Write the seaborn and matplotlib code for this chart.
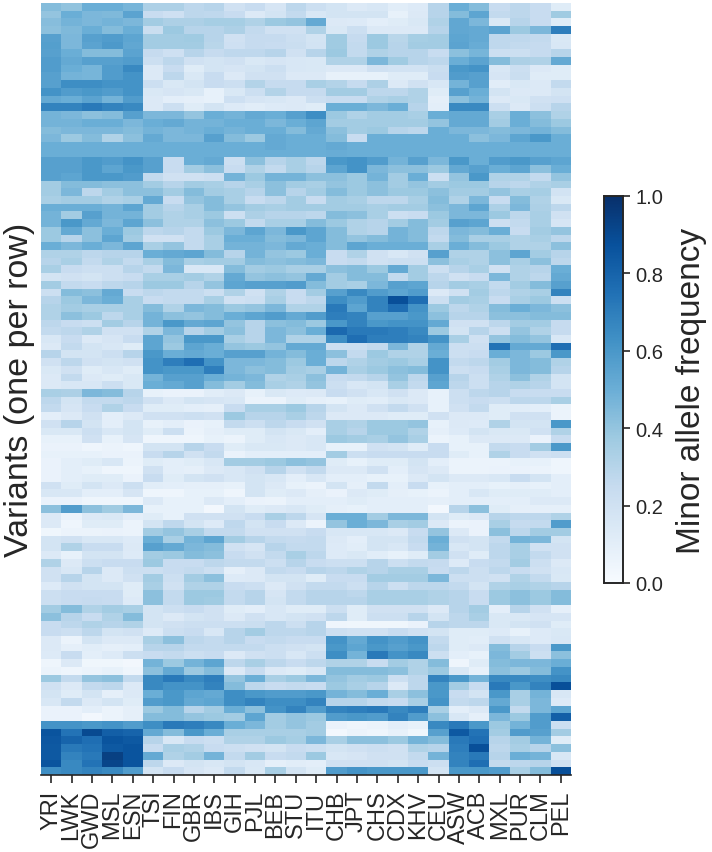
import numpy as np
import pandas as pd
import matplotlib
matplotlib.use("Agg")
import matplotlib.pyplot as plt
import seaborn as sns

populations = ["YRI", "LWK", "GWD", "MSL", "ESN", "TSI", "FIN", "GBR", "IBS", "GIH", "PJL", "BEB", "STU",
               "ITU", "CHB", "JPT", "CHS", "CDX", "KHV", "CEU", "ASW", "ACB", "MXL", "PUR", "CLM", "PEL"]
cbar_ticks = [0.0, 0.2, 0.4, 0.6, 0.8, 1.0]

# minor allele frequency in percent, one list per variant
maf_block_1 = [
    [44, 41, 50, 50, 47, 33, 33, 28, 30, 20, 24, 17, 28, 22, 18, 14, 16, 11, 13, 30, 50, 44, 24, 28, 24, 12],
    [40, 50, 46, 45, 55, 24, 21, 28, 27, 24, 14, 18, 26, 16, 18, 18, 18, 8, 14, 30, 44, 54, 26, 28, 24, 37],
    [43, 48, 46, 48, 46, 36, 33, 33, 35, 35, 32, 38, 40, 52, 14, 13, 10, 12, 15, 32, 53, 46, 15, 30, 24, 12],
    [42, 45, 50, 44, 50, 23, 38, 30, 30, 33, 26, 20, 20, 32, 15, 22, 14, 14, 14, 30, 53, 52, 55, 38, 46, 70],
    [56, 46, 56, 58, 54, 36, 36, 37, 30, 20, 25, 25, 22, 18, 37, 25, 38, 29, 35, 36, 54, 52, 27, 27, 26, 15],
    [57, 46, 55, 59, 53, 36, 36, 36, 29, 21, 25, 24, 23, 19, 37, 26, 38, 30, 36, 36, 55, 51, 27, 26, 25, 16],
    [56, 50, 44, 44, 55, 25, 21, 30, 25, 27, 27, 30, 20, 30, 38, 26, 32, 30, 30, 24, 42, 47, 22, 22, 25, 30],
    [58, 52, 56, 56, 58, 22, 28, 20, 18, 20, 15, 17, 16, 15, 32, 32, 46, 37, 30, 28, 50, 55, 44, 33, 32, 52],
    [58, 50, 47, 58, 66, 14, 24, 12, 18, 17, 18, 22, 16, 15, 14, 14, 20, 19, 19, 23, 60, 62, 16, 22, 14, 12],
    [56, 48, 47, 58, 62, 14, 28, 15, 24, 14, 20, 20, 14, 14, 8, 8, 8, 12, 12, 24, 58, 56, 17, 23, 12, 12],
    [56, 64, 64, 62, 62, 22, 15, 18, 24, 22, 31, 25, 25, 34, 31, 25, 33, 14, 20, 16, 48, 56, 11, 15, 14, 26],
    [62, 58, 60, 58, 62, 15, 17, 15, 8, 15, 22, 31, 25, 25, 36, 36, 28, 28, 32, 12, 56, 50, 18, 14, 14, 18],
    [52, 50, 55, 48, 58, 14, 10, 9, 8, 21, 17, 16, 14, 22, 24, 24, 32, 34, 32, 9, 42, 48, 14, 15, 20, 21],
    [68, 68, 72, 68, 66, 14, 22, 12, 18, 13, 11, 13, 14, 12, 50, 50, 46, 50, 30, 10, 66, 66, 22, 14, 22, 30],
    [48, 46, 42, 44, 56, 46, 46, 40, 50, 48, 52, 50, 56, 64, 38, 32, 36, 36, 34, 50, 52, 52, 34, 50, 42, 32],
    [48, 48, 50, 50, 46, 50, 52, 48, 48, 50, 50, 46, 50, 54, 36, 36, 36, 36, 36, 40, 52, 52, 36, 50, 44, 38],
    [44, 46, 46, 46, 44, 48, 46, 48, 50, 48, 50, 50, 44, 52, 42, 36, 38, 30, 28, 50, 46, 46, 44, 46, 48, 44],
]
maf_block_2 = [
    [46, 38, 44, 32, 42, 52, 46, 46, 56, 44, 38, 52, 50, 50, 44, 24, 50, 50, 50, 50, 50, 42, 46, 54, 60, 50],
    [50, 50, 50, 50, 50, 50, 50, 50, 50, 50, 50, 52, 50, 50, 52, 50, 50, 50, 50, 50, 50, 50, 50, 50, 50, 50],
    [50, 50, 50, 50, 50, 50, 50, 50, 50, 50, 50, 50, 50, 50, 51, 50, 50, 50, 50, 50, 50, 50, 50, 50, 50, 50],
    [56, 56, 60, 58, 62, 56, 24, 50, 52, 22, 42, 30, 34, 28, 60, 62, 58, 48, 56, 46, 60, 50, 58, 60, 56, 54],
    [56, 56, 60, 54, 60, 56, 24, 36, 42, 24, 32, 26, 34, 30, 54, 62, 46, 42, 42, 38, 52, 56, 50, 54, 42, 50],
    [56, 54, 60, 60, 58, 26, 20, 20, 22, 48, 38, 48, 48, 42, 42, 38, 48, 36, 50, 22, 40, 60, 32, 32, 26, 40],
    [36, 44, 44, 42, 42, 36, 30, 36, 34, 30, 34, 42, 36, 34, 40, 38, 42, 36, 40, 36, 38, 38, 30, 28, 32, 34],
    [36, 46, 28, 36, 42, 42, 36, 44, 36, 34, 30, 42, 30, 36, 44, 38, 42, 38, 38, 42, 36, 36, 40, 34, 35, 19],
    [34, 36, 36, 32, 34, 52, 24, 40, 44, 34, 24, 28, 36, 24, 36, 34, 28, 28, 34, 44, 32, 46, 24, 44, 32, 15],
    [50, 50, 50, 48, 54, 36, 30, 34, 44, 40, 36, 34, 36, 36, 36, 36, 34, 36, 36, 42, 46, 54, 33, 46, 33, 28],
    [48, 36, 56, 48, 48, 36, 32, 34, 38, 22, 33, 30, 30, 28, 44, 42, 34, 22, 24, 38, 46, 46, 38, 28, 34, 20],
    [48, 60, 52, 46, 54, 42, 32, 32, 42, 38, 26, 34, 34, 44, 38, 32, 30, 36, 44, 36, 56, 54, 22, 26, 34, 17],
    [38, 52, 42, 50, 38, 28, 30, 26, 38, 46, 54, 46, 60, 54, 44, 32, 30, 48, 44, 28, 46, 44, 50, 24, 36, 40],
    [38, 30, 42, 54, 36, 20, 20, 26, 34, 50, 50, 44, 46, 54, 44, 40, 44, 48, 44, 26, 44, 34, 34, 32, 34, 28],
    [50, 46, 50, 46, 54, 34, 40, 26, 34, 48, 48, 46, 52, 50, 44, 54, 50, 50, 50, 34, 50, 44, 38, 32, 32, 42],
    [32, 32, 28, 30, 30, 50, 52, 54, 44, 30, 48, 40, 38, 50, 24, 32, 20, 16, 20, 56, 32, 32, 42, 54, 36, 30],
]
maf_block_3 = [
    [30, 34, 26, 32, 26, 34, 44, 34, 36, 36, 44, 42, 44, 46, 24, 26, 20, 22, 22, 42, 34, 32, 42, 34, 42, 28],
    [34, 24, 22, 22, 30, 26, 46, 16, 16, 44, 36, 38, 34, 34, 42, 44, 38, 52, 36, 22, 30, 34, 20, 32, 30, 50],
    [18, 20, 18, 22, 24, 34, 34, 36, 32, 52, 40, 42, 40, 52, 36, 44, 44, 26, 36, 28, 20, 24, 46, 32, 28, 52],
    [36, 26, 24, 28, 30, 38, 38, 30, 40, 54, 56, 56, 58, 44, 36, 34, 46, 56, 54, 30, 36, 34, 26, 36, 44, 56],
    [22, 44, 42, 52, 24, 28, 26, 26, 22, 32, 20, 32, 24, 36, 56, 66, 58, 54, 58, 14, 20, 36, 28, 32, 34, 68],
    [30, 38, 46, 50, 34, 24, 26, 26, 34, 20, 22, 34, 24, 28, 64, 58, 68, 88, 76, 22, 36, 34, 24, 34, 38, 22],
    [32, 36, 34, 34, 34, 44, 32, 46, 44, 38, 40, 46, 32, 32, 72, 54, 68, 76, 62, 38, 28, 32, 44, 50, 46, 42],
    [32, 42, 38, 28, 34, 48, 42, 40, 44, 50, 54, 58, 52, 58, 70, 68, 56, 56, 60, 42, 30, 30, 42, 42, 44, 44],
    [28, 24, 22, 36, 30, 48, 60, 52, 54, 40, 30, 42, 44, 38, 60, 68, 60, 62, 62, 52, 20, 20, 28, 36, 36, 25],
    [26, 28, 32, 20, 20, 32, 46, 30, 36, 42, 30, 46, 42, 50, 78, 72, 72, 70, 66, 38, 18, 30, 22, 40, 32, 25],
    [16, 24, 14, 17, 24, 54, 40, 60, 60, 34, 30, 46, 32, 32, 64, 76, 70, 70, 68, 62, 34, 20, 40, 44, 40, 16],
    [14, 26, 18, 16, 12, 54, 38, 54, 50, 40, 38, 40, 52, 52, 22, 22, 26, 46, 32, 52, 22, 22, 74, 52, 52, 76],
    [30, 18, 18, 22, 30, 60, 50, 52, 50, 56, 56, 48, 44, 50, 42, 26, 38, 32, 32, 50, 22, 24, 50, 46, 38, 60],
    [20, 28, 20, 18, 20, 62, 70, 76, 62, 46, 46, 44, 38, 50, 28, 32, 36, 38, 34, 62, 26, 28, 36, 46, 44, 32],
    [15, 20, 12, 16, 12, 62, 60, 60, 70, 46, 42, 44, 36, 34, 48, 34, 38, 42, 44, 62, 22, 24, 34, 46, 44, 30],
    [14, 26, 14, 12, 15, 48, 56, 56, 50, 48, 46, 32, 34, 42, 24, 26, 30, 40, 28, 56, 30, 22, 32, 42, 32, 18],
    [14, 16, 16, 22, 15, 50, 52, 56, 44, 36, 44, 34, 32, 40, 22, 16, 18, 34, 26, 54, 28, 22, 30, 32, 30, 18],
]
maf_block_4 = [
    [34, 33, 46, 44, 30, 8, 7, 7, 11, 14, 8, 15, 13, 14, 24, 20, 16, 20, 14, 8, 22, 28, 30, 24, 24, 24],
    [28, 18, 26, 26, 28, 20, 14, 18, 17, 16, 6, 6, 12, 9, 8, 12, 11, 15, 14, 8, 22, 24, 22, 28, 28, 34],
    [26, 17, 24, 32, 24, 12, 12, 10, 9, 24, 34, 34, 38, 30, 18, 14, 20, 26, 20, 8, 20, 26, 12, 11, 10, 6],
    [10, 14, 20, 10, 14, 20, 20, 22, 20, 38, 30, 30, 34, 28, 14, 14, 14, 12, 12, 20, 14, 14, 12, 20, 20, 6],
    [20, 30, 18, 10, 18, 8, 10, 7, 8, 26, 22, 28, 24, 20, 34, 32, 38, 38, 40, 8, 14, 13, 32, 18, 18, 60],
    [15, 15, 22, 16, 18, 12, 22, 6, 9, 12, 12, 18, 15, 10, 34, 30, 38, 38, 32, 9, 13, 18, 15, 15, 20, 32],
    [8, 8, 20, 8, 17, 5, 5, 5, 8, 6, 12, 16, 14, 16, 38, 36, 34, 40, 34, 6, 8, 14, 14, 14, 7, 24],
    [7, 7, 5, 6, 5, 18, 18, 30, 24, 12, 15, 15, 14, 16, 8, 8, 20, 18, 12, 24, 8, 8, 26, 24, 36, 60],
    [8, 8, 8, 7, 7, 24, 30, 20, 26, 7, 10, 10, 10, 10, 36, 22, 24, 24, 24, 24, 12, 8, 32, 24, 20, 22],
    [7, 10, 12, 16, 6, 12, 10, 12, 16, 36, 36, 38, 42, 40, 12, 8, 12, 12, 18, 10, 6, 6, 6, 8, 8, 5],
    [7, 10, 8, 5, 5, 20, 10, 9, 14, 16, 20, 30, 20, 26, 14, 14, 20, 10, 17, 14, 6, 6, 7, 7, 6, 5],
    [7, 10, 12, 12, 7, 24, 12, 18, 20, 16, 18, 16, 10, 16, 10, 10, 8, 8, 14, 18, 14, 14, 16, 24, 18, 10],
    [20, 12, 18, 14, 22, 11, 10, 9, 9, 8, 18, 14, 8, 6, 18, 9, 26, 10, 24, 8, 10, 10, 8, 9, 8, 10],
    [16, 16, 10, 10, 17, 5, 5, 8, 8, 5, 18, 12, 14, 9, 7, 14, 12, 9, 8, 6, 10, 16, 12, 12, 12, 10],
    [7, 7, 5, 5, 5, 14, 8, 8, 14, 10, 7, 6, 10, 10, 10, 12, 10, 10, 10, 9, 10, 10, 10, 10, 14, 14],
    [42, 58, 42, 37, 46, 8, 8, 8, 3, 18, 12, 14, 16, 12, 9, 8, 10, 10, 10, 3, 30, 42, 12, 9, 9, 9],
    [14, 7, 14, 15, 10, 12, 8, 20, 20, 20, 24, 34, 28, 17, 50, 50, 36, 46, 46, 18, 12, 14, 30, 28, 28, 32],
]
maf_block_5 = [
    [14, 5, 12, 12, 6, 18, 27, 18, 13, 27, 18, 24, 14, 6, 40, 50, 46, 34, 36, 14, 6, 7, 34, 25, 26, 58],
    [4, 6, 6, 7, 6, 36, 40, 34, 26, 26, 20, 20, 20, 24, 16, 16, 16, 14, 24, 40, 14, 7, 42, 28, 36, 36],
    [18, 20, 16, 16, 13, 50, 34, 48, 54, 36, 30, 26, 25, 26, 14, 10, 18, 18, 26, 50, 20, 18, 26, 48, 46, 18],
    [18, 32, 24, 24, 14, 56, 52, 46, 44, 20, 17, 30, 26, 26, 13, 11, 18, 16, 24, 48, 16, 18, 28, 34, 20, 20],
    [14, 8, 18, 18, 13, 36, 38, 44, 42, 24, 20, 26, 34, 28, 13, 15, 11, 8, 12, 36, 20, 12, 28, 34, 26, 20],
    [32, 14, 22, 24, 24, 38, 24, 24, 28, 26, 26, 22, 30, 24, 22, 22, 30, 22, 26, 25, 13, 24, 26, 36, 22, 14],
    [20, 16, 30, 14, 22, 22, 24, 26, 22, 9, 14, 26, 24, 30, 28, 32, 30, 34, 34, 24, 28, 22, 28, 24, 20, 16],
    [20, 30, 18, 14, 20, 36, 22, 36, 42, 13, 14, 18, 18, 12, 24, 24, 36, 36, 36, 46, 22, 22, 20, 32, 26, 15],
    [13, 20, 18, 18, 12, 34, 20, 32, 32, 24, 22, 14, 20, 26, 26, 22, 30, 22, 28, 28, 26, 18, 32, 34, 32, 30],
    [22, 24, 24, 24, 12, 42, 26, 38, 38, 26, 30, 17, 26, 30, 30, 28, 34, 34, 34, 32, 30, 24, 38, 42, 38, 44],
    [22, 24, 25, 24, 13, 42, 26, 38, 37, 26, 30, 18, 26, 30, 30, 30, 34, 34, 34, 32, 30, 24, 38, 42, 38, 44],
    [36, 44, 32, 36, 34, 18, 22, 24, 20, 12, 10, 16, 12, 12, 22, 12, 20, 20, 20, 14, 30, 36, 10, 30, 20, 9],
    [42, 30, 24, 32, 44, 18, 14, 18, 20, 14, 20, 16, 18, 20, 28, 12, 22, 22, 30, 18, 28, 34, 15, 15, 17, 17],
    [24, 28, 32, 30, 32, 18, 20, 22, 22, 22, 23, 28, 22, 30, 5, 4, 4, 4, 7, 30, 28, 28, 15, 18, 20, 12],
    [24, 22, 28, 18, 20, 13, 22, 24, 16, 30, 36, 28, 28, 30, 22, 20, 20, 24, 20, 18, 12, 12, 13, 8, 13, 15],
    [14, 6, 18, 14, 14, 34, 42, 28, 26, 30, 24, 26, 24, 24, 62, 52, 62, 58, 62, 26, 12, 11, 20, 16, 13, 16],
    [14, 9, 11, 9, 10, 30, 30, 26, 26, 26, 26, 22, 20, 18, 60, 54, 60, 56, 60, 28, 12, 14, 44, 30, 24, 60],
]
maf_block_6 = [
    [13, 24, 10, 13, 22, 24, 26, 22, 24, 14, 20, 22, 16, 22, 64, 48, 72, 62, 66, 22, 10, 8, 46, 36, 22, 42],
    [5, 14, 4, 4, 3, 48, 38, 48, 54, 28, 34, 28, 24, 28, 32, 32, 24, 36, 32, 44, 5, 12, 44, 46, 46, 50],
    [6, 5, 6, 8, 5, 42, 52, 38, 44, 14, 24, 14, 12, 16, 44, 44, 44, 42, 32, 38, 15, 8, 42, 38, 44, 62],
    [38, 26, 40, 42, 26, 66, 72, 66, 70, 40, 50, 34, 38, 46, 40, 36, 38, 22, 28, 68, 60, 48, 66, 66, 64, 66],
    [20, 14, 26, 28, 14, 66, 62, 62, 68, 44, 28, 24, 26, 24, 38, 34, 30, 14, 28, 60, 36, 24, 72, 60, 68, 88],
    [18, 12, 18, 9, 14, 50, 60, 54, 52, 64, 60, 58, 58, 60, 48, 44, 50, 34, 42, 60, 24, 18, 60, 34, 48, 16],
    [16, 26, 14, 18, 12, 58, 60, 52, 54, 64, 68, 64, 64, 68, 30, 30, 26, 24, 34, 62, 26, 28, 52, 34, 46, 13],
    [7, 7, 10, 6, 9, 38, 44, 30, 36, 50, 42, 62, 68, 58, 68, 70, 72, 66, 70, 34, 10, 14, 60, 26, 46, 54],
    [7, 7, 3, 6, 9, 44, 44, 40, 38, 36, 54, 36, 40, 38, 58, 60, 58, 68, 58, 42, 16, 9, 46, 38, 58, 82],
    [62, 62, 60, 62, 58, 64, 72, 70, 66, 50, 46, 36, 40, 36, 7, 5, 6, 10, 8, 66, 72, 60, 38, 48, 58, 22],
    [86, 74, 90, 82, 80, 52, 44, 60, 50, 34, 34, 34, 34, 36, 3, 6, 5, 8, 4, 56, 84, 74, 36, 58, 56, 36],
    [85, 80, 76, 86, 84, 30, 16, 24, 22, 32, 32, 38, 35, 46, 34, 42, 42, 38, 48, 44, 72, 76, 30, 36, 48, 12],
    [84, 72, 74, 84, 86, 24, 34, 32, 24, 22, 20, 18, 24, 22, 18, 20, 22, 20, 32, 30, 70, 88, 28, 34, 30, 42],
    [84, 68, 72, 94, 86, 52, 32, 36, 48, 26, 36, 24, 26, 38, 16, 17, 20, 20, 26, 48, 68, 72, 30, 50, 48, 16],
    [86, 66, 74, 92, 86, 28, 14, 18, 16, 18, 16, 9, 11, 10, 20, 20, 20, 18, 24, 22, 68, 76, 26, 28, 30, 20],
    [64, 66, 68, 66, 58, 18, 24, 17, 14, 26, 15, 34, 18, 12, 58, 62, 60, 60, 60, 18, 60, 60, 58, 34, 44, 88],
]

maf = np.array(maf_block_1 + maf_block_2 + maf_block_3 + maf_block_4 + maf_block_5 + maf_block_6) / 100
df = pd.DataFrame(maf, columns=populations)

sns.set_theme(style="ticks")
plt.rcParams["font.family"] = ["Liberation Sans", "DejaVu Sans"]
dark = "#262626"

fig = plt.figure(figsize=(7.12, 8.53), dpi=100)
ax = fig.add_axes([41 / 712, 1 - 776 / 853, 530 / 712, 772 / 853])
cax = fig.add_axes([604 / 712, 1 - 584 / 853, 19 / 712, 387 / 853])

sns.heatmap(df, cmap="Blues", vmin=0, vmax=1, ax=ax, cbar_ax=cax, yticklabels=False, xticklabels=True)

ax.set_ylabel("Variants (one per row)", fontsize=24.5, color=dark, labelpad=4)
ax.tick_params(axis="x", length=5.5, width=1.2, color=dark, labelsize=17, labelcolor=dark, pad=5)
ax.tick_params(axis="y", length=0)
plt.setp(ax.get_xticklabels(), rotation=90)
ax.spines["bottom"].set_visible(True)
ax.spines["bottom"].set_color(dark)
ax.spines["bottom"].set_linewidth(1.2)

cax.set_yticks(cbar_ticks)
cax.tick_params(axis="y", length=5, width=1.2, color=dark, labelsize=14.5, labelcolor=dark, pad=4)
cax.set_ylabel("Minor allele frequency", fontsize=24, color=dark, labelpad=9)
for s in cax.spines.values():
    s.set_visible(True)
    s.set_color(dark)
    s.set_linewidth(1.2)

fig.savefig("out.png", dpi=100)
